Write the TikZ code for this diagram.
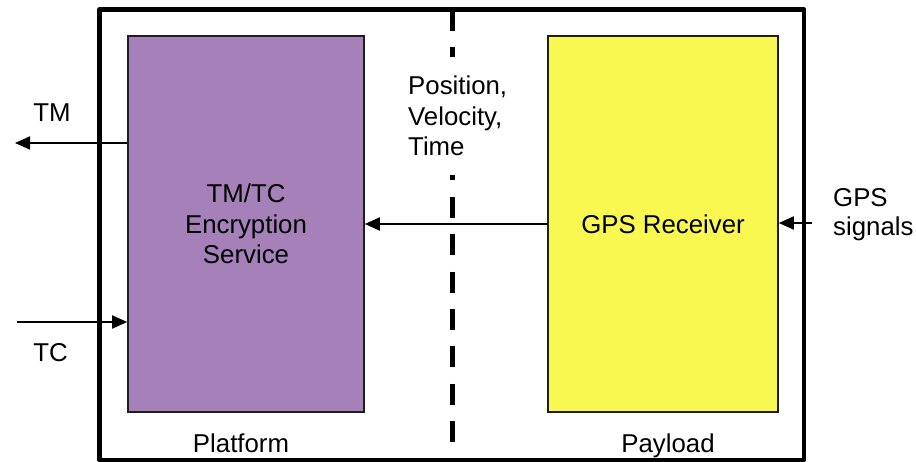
\documentclass[tikz,border=0pt]{standalone}
\usepackage{fontspec}
\setmainfont{Liberation Sans}
\usetikzlibrary{arrows.meta}

\definecolor{encpurple}{RGB}{166,128,184}
\definecolor{gpsyellow}{RGB}{248,248,80}
\definecolor{edgegray}{RGB}{30,30,30}

\tikzset{
  block/.style={draw=edgegray, line width=1.6pt, inner sep=0pt, align=center},
  arr/.style={line width=1.8pt, -{Triangle[length=15pt,width=13pt]}},
  lbl/.style={inner sep=0pt},
  divider/.style={line width=5pt, dash pattern=on 21pt off 16.36pt},
  frameline/.style={line width=4.8pt, line join=round}
}

\begin{document}
\begin{tikzpicture}[x=1pt, y=-1pt, font=\fontsize{25.8}{30.5}\selectfont]
\useasboundingbox (0,0) rectangle (916,462);

% dashed boundary between the platform and the payload
\coordinate (divtop) at (452,10);
\coordinate (divbot) at (452,460);
\draw[divider] (divtop) -- (divbot);

% the two functional blocks
\node[block, fill=encpurple, minimum width=236pt, minimum height=376pt]
  (enc) at (246,224) {TM/TC\\Encryption\\Service};
\node[block, fill=gpsyellow, minimum width=230pt, minimum height=376pt]
  (gps) at (663,224) {GPS Receiver};

% outer frame
\coordinate (fnw) at (99.5,9.5);
\coordinate (fse) at (804,460);
\draw[frameline] (fnw) rectangle (fse);

% data passed across the boundary
\node[fill=white, inner xsep=0pt, inner ysep=19pt, align=left, anchor=west]
  (pvt) at (408,116) {Position,\\Velocity,\\Time};
\draw[arr] (gps.west) -- (enc.east);

% external interfaces
\coordinate (tmend) at (15,143);
\coordinate (tcstart) at (17,322);
\coordinate (gpsin) at (812,223);
\draw[arr] (enc.west |- tmend) -- (tmend);
\draw[arr] (tcstart) -- (tcstart -| enc.west);
\draw[arr] (gpsin) -- (gpsin -| gps.east);

\node[lbl, anchor=base] (tm) at (52,122) {TM};
\node[lbl, anchor=base] (tc) at (50.5,362) {TC};
\node[lbl, anchor=west, align=left, font=\fontsize{25.8}{28.5}\selectfont]
  (gpssig) at (833,214.5) {GPS\\signals};

% side captions
\node[lbl, anchor=base] (platform) at (241,452) {Platform};
\node[lbl, anchor=base] (payload) at (668,452) {Payload};
\end{tikzpicture}
\end{document}
